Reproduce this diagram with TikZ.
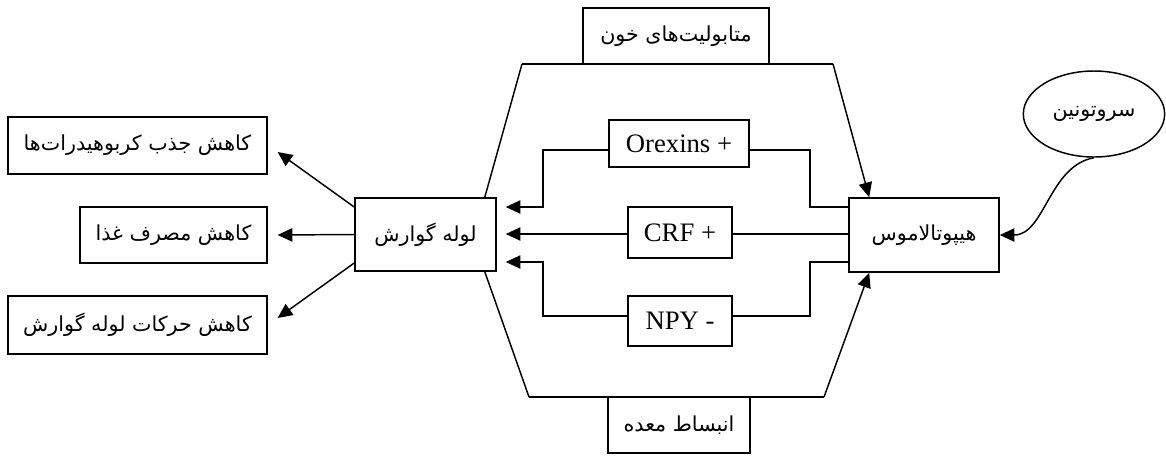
\documentclass[tikz,border=0pt]{standalone}
\usepackage{fontspec}
\setmainfont{Liberation Serif}
\newfontfamily\fafont[Script=Arabic]{DejaVu Sans}
\TeXXeTstate=1
\usetikzlibrary{arrows.meta,shapes.geometric,calc}
\newcommand{\fatext}[1]{{\fafont\fontsize{15.5}{18}\selectfont\beginR #1\endR}}
\begin{document}
\begin{tikzpicture}[x=0.75pt,y=-0.75pt,
  bx/.style={draw,line width=1.2pt,inner sep=0pt,align=center},
  ln/.style={line width=1.1pt},
  ar/.style={line width=1.1pt,-{Triangle[length=11pt,width=10pt]}},
  lat/.style={font=\fontsize{20}{24}\selectfont}]
\useasboundingbox (0,0) rectangle (1166,455);

% left outcome boxes
\node[bx,minimum width=194pt,minimum height=43pt] (b1) at (137.5,145.5) {\fatext{کاهش جذب کربوهیدرات‌ها}};
\node[bx,minimum width=140pt,minimum height=42pt] (b2) at (173.5,235) {\fatext{کاهش مصرف غذا}};
\node[bx,minimum width=194pt,minimum height=43.5pt] (b3) at (137.5,325) {\fatext{کاهش حرکات لوله گوارش}};

% main boxes
\node[bx,minimum width=105.75pt,minimum height=54.75pt] (gut) at (425.5,234.5) {\fatext{لوله گوارش}};
\node[bx,minimum width=112.5pt,minimum height=55.5pt] (hyp) at (924,235) {\fatext{هیپوتالاموس}};
\node[bx,minimum width=139.5pt,minimum height=42pt] (blood) at (676,36) {\fatext{متابولیت‌های خون}};
\node[bx,minimum width=106.5pt,minimum height=42pt] (stom) at (679,425) {\fatext{انبساط معده}};

% hormone boxes
\node[bx,lat,minimum width=105pt,minimum height=35.25pt] (orex) at (679,143.5) {Orexins +};
\node[bx,lat,minimum width=78pt,minimum height=38.25pt] (crf) at (680,232.5) {CRF +};
\node[bx,lat,minimum width=78pt,minimum height=37.5pt] (npy) at (680,321) {NPY -};

% serotonin
\node[draw,ellipse,line width=1.1pt,inner sep=0pt,minimum width=106pt,minimum height=64.5pt] (ser) at (1094,114) {\fatext{سروتونین}};

% hexagon frame
\coordinate (tl) at (522,64);
\coordinate (tr) at (833,64);
\coordinate (bl) at (529,397);
\coordinate (br) at (824,397);
\draw[ln] (tl) -- (tr);
\draw[ln] (bl) -- (br);
\draw[ln] (tl) -- ([xshift=-9pt]gut.north east);
\draw[ln] (bl) -- ([xshift=-9pt]gut.south east);
\draw[ar] (tr) -- ([xshift=15.75pt]hyp.north west);
\draw[ar] (br) -- ([xshift=15.75pt]hyp.south west);

% hormone connectors
\draw[ar,shorten >=6.75pt] (orex.west |- 0,150) -| (543,207) -- (gut.east |- 0,207);
\draw[ln] (orex.east |- 0,150) -| (810,207) -- (hyp.west |- 0,207);
\draw[ar,shorten >=6.75pt] (crf.west |- 0,234) -- (gut.east |- 0,234);
\draw[ln] (hyp.west |- 0,234) -- (crf.east |- 0,234);
\draw[ar,shorten >=6.75pt] (npy.west |- 0,316) -| (543,262) -- (gut.east |- 0,262);
\draw[ln] (npy.east |- 0,316) -| (810,262) -- (hyp.west |- 0,262);

% outputs
\draw[ar] (gut.west |- 0,207) -- ($(b1.east)+(10,6.5)$);
\draw[ar] (gut.west) -- ($(b2.east)+(10,0)$);
\draw[ar] (gut.west |- 0,263) -- ($(b3.east)+(10,-7)$);

% serotonin curve
\draw[ar] (ser.south) .. controls +(-45,8) and +(45,0) .. (hyp.east);
\end{tikzpicture}
\end{document}
